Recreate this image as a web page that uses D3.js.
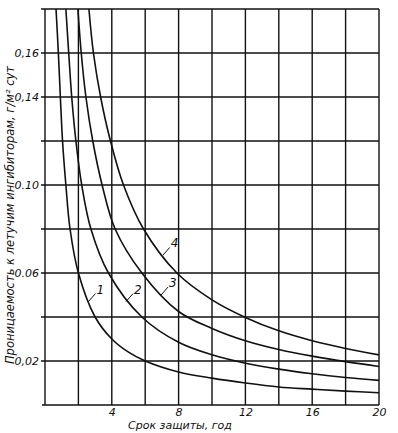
<!DOCTYPE html>
<html>
<head>
<meta charset="utf-8">
<script src="https://cdn.jsdelivr.net/npm/d3@7"></script>
<style>
  body { margin: 0; background: #fff; }
  text { font-family: "DejaVu Sans", sans-serif; font-style: italic; fill: #111; }
</style>
</head>
<body>
<script>
// curves: [years, g/m2 per day]
const curve1 = [[0.66, 0.18], [0.8, 0.16], [0.92, 0.14], [1.05, 0.12], [1.25, 0.10], [1.5, 0.08],
  [2.0, 0.06], [3.0, 0.04], [4, 0.030], [5, 0.024], [6, 0.020], [8, 0.015], [10, 0.0122],
  [12, 0.0100], [14, 0.0082], [16, 0.0072], [18, 0.0063], [20, 0.0056]];
const curve2 = [[1.25, 0.18], [1.42, 0.16], [1.6, 0.14], [1.85, 0.12], [2.2, 0.10], [2.75, 0.08],
  [3.8, 0.06], [5.8, 0.04], [8, 0.0285], [10, 0.0228], [12, 0.019], [14, 0.0163],
  [16, 0.0142], [18, 0.0125], [20, 0.0112]];
const curve3 = [[1.97, 0.18], [2.17, 0.16], [2.45, 0.14], [2.86, 0.12], [3.42, 0.10], [4.2, 0.08],
  [5.8, 0.06], [8, 0.0425], [10, 0.0348], [12, 0.0292], [14, 0.0252], [16, 0.0222],
  [18, 0.0197], [20, 0.0175]];
const curve4 = [[2.63, 0.18], [2.9, 0.16], [3.33, 0.14], [3.92, 0.12], [4.7, 0.10], [5.9, 0.08],
  [7.9, 0.06], [10, 0.0478], [12, 0.0398], [14, 0.0337], [16, 0.0292], [18, 0.0257], [20, 0.0228]];
const curveNames = ["1", "2", "3", "4"];

const xTicks = [4, 8, 12, 16, 20];
const yTicks = [0.02, 0.06, 0.10, 0.14, 0.16];
const yTickLabels = ["0,02", "0.06", "0.10", "0,14", "0,16"];
const xGrid = d3.range(0, 21, 2);
const yGrid = [0, 0.02, 0.04, 0.06, 0.08, 0.10, 0.12, 0.14, 0.16, 0.18];

const xTitle = "Срок защиты, год";
const yTitle = "Проницаемость к летучим ингибиторам, г/м² сут";

let svg, x, y;
const margin = {top: 9, left: 45, right: 19, bottom: 28};
const W = 398, H = 433;
const width = W - margin.left - margin.right;
const height = H - margin.top - margin.bottom;

appendSvg();
setupScales();
appendGrid();
appendAxes();
appendCurves();
appendCurveLabels();
appendTitles();

function appendSvg() {
  svg = d3.select("body").append("svg")
    .attr("width", W).attr("height", H)
    .append("g")
    .attr("transform", `translate(${margin.left}, ${margin.top})`);
}

function setupScales() {
  x = d3.scaleLinear().domain([0, 20]).range([0, width]);
  y = d3.scaleLinear().domain([0, 0.18]).range([height, 0]);
}

function appendGrid() {
  const g = svg.append("g").attr("stroke", "#111").attr("stroke-width", 1.4);
  g.selectAll(".v").data(xGrid).enter().append("line")
    .attr("x1", d => x(d)).attr("x2", d => x(d))
    .attr("y1", 0).attr("y2", height);
  g.selectAll(".h").data(yGrid).enter().append("line")
    .attr("x1", d => d === 0 ? -3 : -4).attr("x2", width)
    .attr("y1", d => y(d)).attr("y2", d => y(d));
}

function appendAxes() {
  // labels only, the grid acts as axis lines
  const xAxis = d3.axisBottom(x).tickValues(xTicks).tickSize(0).tickPadding(3);
  svg.append("g")
    .attr("transform", `translate(0, ${height})`)
    .call(xAxis)
    .call(g => g.select(".domain").remove())
    .selectAll("text")
      .attr("font-size", 11).attr("font-family", "DejaVu Sans").attr("font-style", "italic");

  const yAxis = d3.axisLeft(y).tickValues(yTicks).tickSize(0).tickPadding(6)
    .tickFormat((d, i) => yTickLabels[i]);
  svg.append("g")
    .call(yAxis)
    .call(g => g.select(".domain").remove())
    .selectAll("text")
      .attr("font-size", 11).attr("font-family", "DejaVu Sans").attr("font-style", "italic");
}

function appendCurves() {
  const line = d3.line()
    .x(d => x(d[0]))
    .y(d => y(d[1]))
    .curve(d3.curveCatmullRom.alpha(0.5));
  svg.append("g").selectAll("path")
    .data([curve1, curve2, curve3, curve4])
    .enter().append("path")
      .attr("d", line)
      .attr("fill", "none")
      .attr("stroke", "#111")
      .attr("stroke-width", 1.6);
}

function appendCurveLabels() {
  // label anchor points on each curve, leader line goes up-right
  const anchors = [[2.6, 0.047], [4.85, 0.047], [6.95, 0.05], [7.05, 0.068]];
  const g = svg.append("g");
  anchors.forEach((a, i) => {
    const px = x(a[0]), py = y(a[1]);
    g.append("line")
      .attr("x1", px).attr("y1", py)
      .attr("x2", px + 7).attr("y2", py - 8)
      .attr("stroke", "#111").attr("stroke-width", 1);
    g.append("text")
      .attr("x", px + 8).attr("y", py - 8)
      .attr("font-size", 12)
      .text(curveNames[i]);
  });
}

function appendTitles() {
  svg.append("text")
    .attr("x", 135).attr("y", height + 24)
    .attr("text-anchor", "middle")
    .attr("font-size", 11)
    .text(xTitle);

  svg.append("text")
    .attr("transform", `translate(${-31}, ${206}) rotate(-90)`)
    .attr("text-anchor", "middle")
    .attr("font-size", 11.5)
    .text(yTitle);
}
</script>
</body>
</html>
